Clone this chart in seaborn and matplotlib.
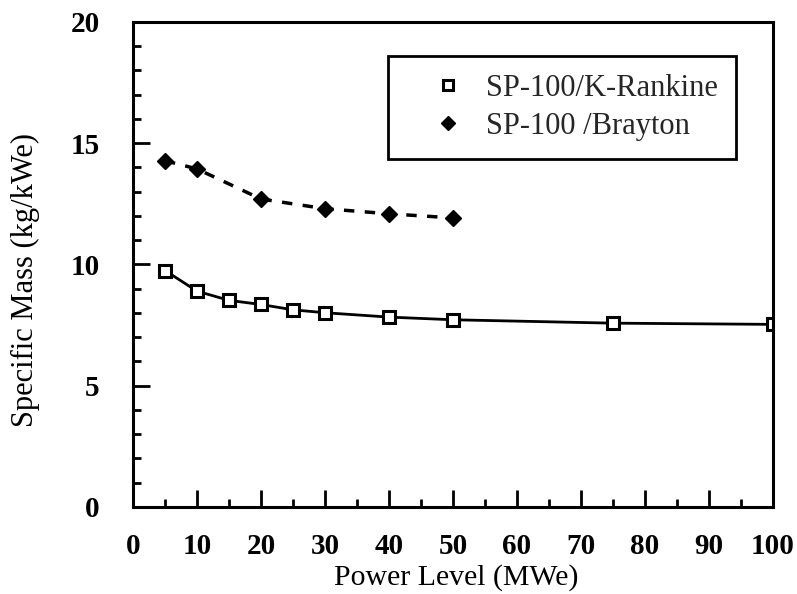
import matplotlib
matplotlib.use("Agg")
import matplotlib.pyplot as plt
from matplotlib.lines import Line2D
import seaborn as sns
import pandas as pd

# ---- data ----
rankine_power = [5, 10, 15, 20, 25, 30, 40, 50, 75, 100]
rankine_mass = [9.75, 8.9, 8.52, 8.35, 8.13, 8.01, 7.83, 7.72, 7.58, 7.53]
brayton_power = [5, 10, 20, 30, 40, 50]
brayton_mass = [14.28, 13.94, 12.7, 12.3, 12.09, 11.92]

rankine_label = "SP-100/K-Rankine"
brayton_label = "SP-100 /Brayton"
x_label = "Power Level (MWe)"
y_label = "Specific Mass (kg/kWe)"
x_ticks = [0, 10, 20, 30, 40, 50, 60, 70, 80, 90, 100]
y_ticks = [0, 5, 10, 15, 20]

df_r = pd.DataFrame({"power": rankine_power, "mass": rankine_mass})
df_b = pd.DataFrame({"power": brayton_power, "mass": brayton_mass})

sns.set_theme(style="ticks")
plt.rcParams["font.family"] = ["Liberation Serif", "DejaVu Serif"]

fig = plt.figure(figsize=(7.97, 5.94), dpi=100)
ax = fig.add_axes([0.1669, 0.1465, 0.803, 0.8165])

sns.lineplot(data=df_r, x="power", y="mass", ax=ax, color="black",
             linewidth=2.0, marker="s", markersize=8.5, markerfacecolor="white",
             markeredgecolor="black", markeredgewidth=2.2, legend=False)
sns.lineplot(data=df_b, x="power", y="mass", ax=ax, color="black",
             linewidth=2.5, linestyle=(0, (3, 3)), marker="D", markersize=8,
             markerfacecolor="black", markeredgecolor="black",
             markeredgewidth=1.0, legend=False)

ax.set_xlim(0, 100)
ax.set_ylim(0, 20)
ax.set_xticks(x_ticks)
ax.set_yticks(y_ticks)
ax.set_xticks(range(5, 100, 10), minor=True)
ax.set_yticks([v for v in range(1, 20) if v % 5 != 0], minor=True)

for s in ax.spines.values():
    s.set_visible(True)
    s.set_linewidth(2.2)
    s.set_color("black")

ax.tick_params(axis="both", which="both", direction="in", color="black",
               top=False, right=False)
ax.tick_params(axis="both", which="major", length=12, width=2.0)
ax.tick_params(axis="both", which="minor", length=6, width=2.0)
ax.tick_params(axis="x", which="major", pad=19)
ax.tick_params(axis="y", which="major", pad=24)

for lbl in ax.get_xticklabels() + ax.get_yticklabels():
    lbl.set_fontsize(21)
    lbl.set_fontweight("bold")
    lbl.set_color("black")

ax.set_xlabel(x_label, fontsize=21.5, color="black")
ax.set_ylabel(y_label, fontsize=22, color="black")
ax.xaxis.set_label_coords(0.505, -0.118)
ax.yaxis.set_label_coords(-0.145, 0.468)

handles = [
    Line2D([], [], linestyle="none", marker="s", markersize=7.5,
           markerfacecolor="white", markeredgecolor="black", markeredgewidth=2.2),
    Line2D([], [], linestyle="none", marker="D", markersize=7,
           markerfacecolor="black", markeredgecolor="black"),
]
leg = ax.legend(handles, [rankine_label, brayton_label], loc="upper left",
                bbox_to_anchor=(0.398, 0.930), fontsize=22, frameon=True,
                fancybox=False, framealpha=1, edgecolor="black",
                borderpad=0.58, labelspacing=0.3, handlelength=2.76,
                handletextpad=-0.11, numpoints=1, borderaxespad=0)
leg.get_frame().set_linewidth(2.0)

fig.savefig("out.png", dpi=100, facecolor="white")
